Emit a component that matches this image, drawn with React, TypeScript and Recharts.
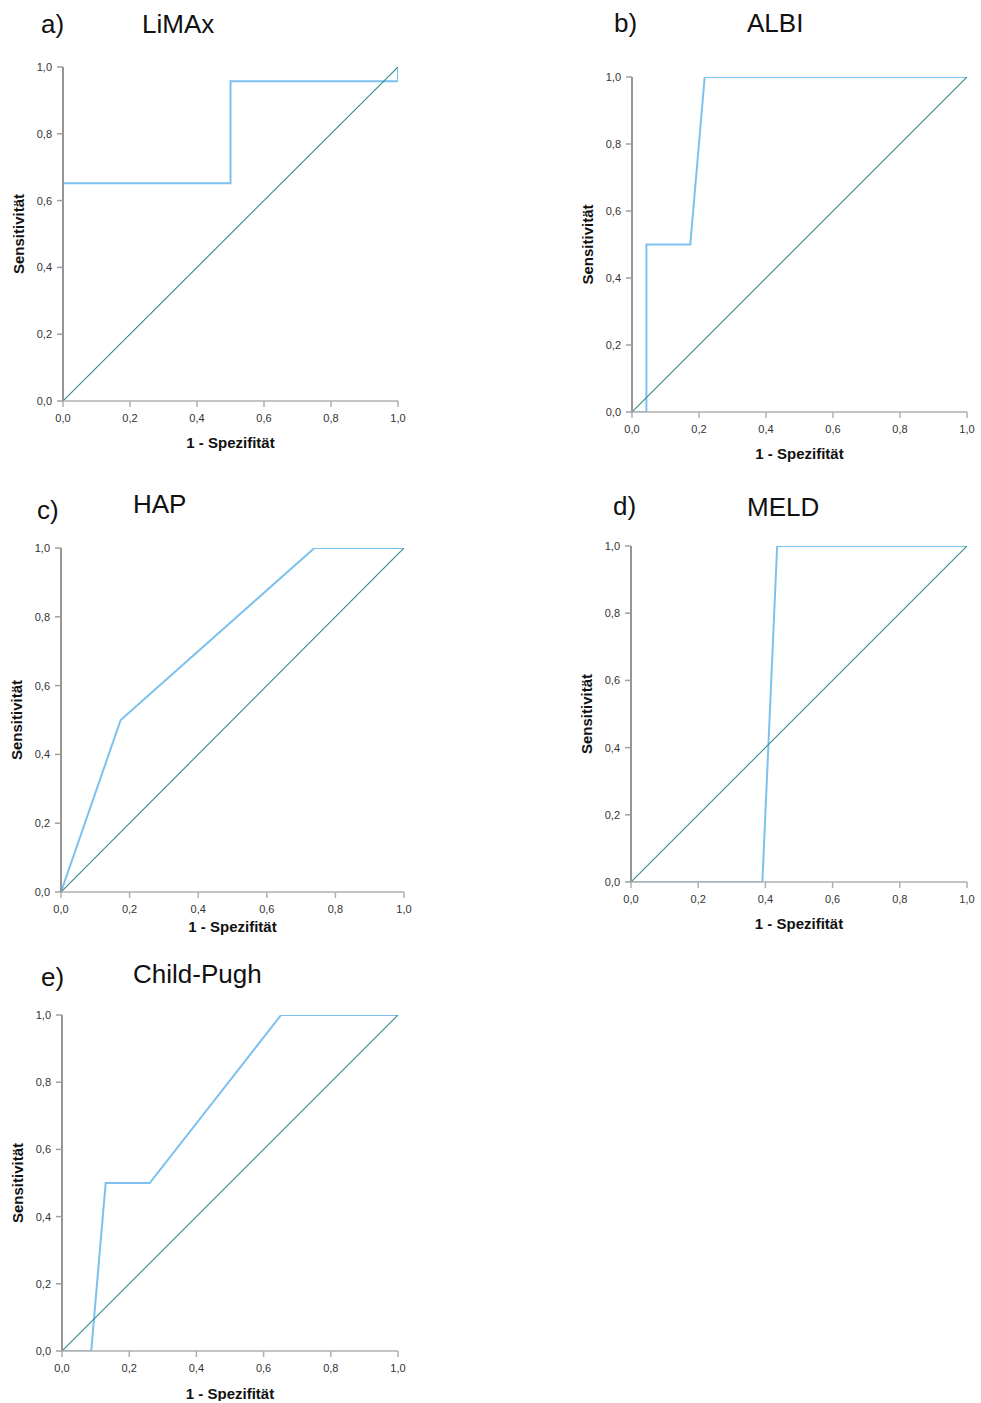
import React from 'react';
import { LineChart, Line, XAxis, YAxis, Label } from 'recharts';

// 1 - specificity (x) and sensitivity (y) for each ROC curve
const limaxFpr = [0, 0, 0.5, 0.5, 1.0, 1.0];
const limaxSens = [0, 0.652, 0.652, 0.957, 0.957, 1.0];

const albiFpr = [0, 0.043, 0.043, 0.174, 0.217, 1.0];
const albiSens = [0, 0, 0.5, 0.5, 1.0, 1.0];

const hapFpr = [0, 0.174, 0.739, 1.0];
const hapSens = [0, 0.5, 1.0, 1.0];

const meldFpr = [0, 0.391, 0.435, 1.0];
const meldSens = [0, 0, 1.0, 1.0];

const childFpr = [0, 0.087, 0.13, 0.261, 0.652, 1.0];
const childSens = [0, 0, 0.5, 0.5, 1.0, 1.0];

const refFpr = [0, 1];
const refSens = [0, 1];

const tickValues = [0, 0.2, 0.4, 0.6, 0.8, 1.0];
const xTitle = '1 - Spezifität';
const yTitle = 'Sensitivität';

const toPoints = (xs: number[], ys: number[]) => xs.map((x, i) => ({ x, y: ys[i] }));
const fmt = (v: number) => v.toFixed(1).replace('.', ',');

const FONT = '"Liberation Sans", Arial, Helvetica, sans-serif';
const ROC_COLOR = '#7cc1ee';
const REF_COLOR = '#2f8a8a';

type Panel = {
  letter: string;
  name: string;
  xs: number[];
  ys: number[];
  x0: number; x1: number; y1: number; y0: number;
  xLabelOff: number;
  letterX: number; letterY: number; nameX: number; nameY: number;
};

const panels: Panel[] = [
  { letter: 'a)', name: 'LiMAx', xs: limaxFpr, ys: limaxSens, x0: 63, x1: 398, y1: 67, y0: 401, xLabelOff: 41, letterX: 41, letterY: 33, nameX: 142, nameY: 33 },
  { letter: 'b)', name: 'ALBI', xs: albiFpr, ys: albiSens, x0: 632, x1: 967, y1: 77, y0: 412, xLabelOff: 41, letterX: 614, letterY: 32, nameX: 747, nameY: 32 },
  { letter: 'c)', name: 'HAP', xs: hapFpr, ys: hapSens, x0: 61, x1: 404, y1: 548, y0: 892, xLabelOff: 34, letterX: 37, letterY: 519, nameX: 133, nameY: 513 },
  { letter: 'd)', name: 'MELD', xs: meldFpr, ys: meldSens, x0: 631, x1: 967, y1: 546, y0: 882, xLabelOff: 41, letterX: 613, letterY: 515, nameX: 747, nameY: 516 },
  { letter: 'e)', name: 'Child-Pugh', xs: childFpr, ys: childSens, x0: 62, x1: 398, y1: 1015, y0: 1351, xLabelOff: 42, letterX: 41, letterY: 986, nameX: 133, nameY: 983 },
];

const RocChart = ({ p }: { p: Panel }) => {
  const left = p.x0 - 60;
  const top = p.y1 - 20;
  const width = p.x1 - p.x0 + 80;
  const height = p.y0 - p.y1 + 70;
  const rocData = toPoints(p.xs, p.ys);
  const refData = toPoints(refFpr, refSens);
  return (
    <div style={{ position: 'absolute', left, top, width, height }}>
      <LineChart width={width} height={height} margin={{ top: 20, right: 20, bottom: 0, left: 0 }}>
        <XAxis
          type="number"
          dataKey="x"
          domain={[0, 1]}
          ticks={tickValues}
          tickFormatter={fmt}
          height={50}
          axisLine={{ stroke: '#b0b0b0', strokeWidth: 1.5 }}
          tickLine={{ stroke: '#b0b0b0', strokeWidth: 1.5 }}
          tickSize={6}
          tickMargin={7}
          tick={{ fill: '#333', fontSize: 11, fontFamily: FONT }}
          allowDataOverflow
        >
          <Label
            content={(props: any) => {
              const vb = props.viewBox || {};
              return (
                <text
                  x={vb.x + vb.width / 2}
                  y={vb.y + p.xLabelOff}
                  textAnchor="middle"
                  dominantBaseline="central"
                  fontFamily={FONT}
                  fontWeight="bold"
                  fontSize={15}
                  fill="#111"
                >
                  {xTitle}
                </text>
              );
            }}
          />
        </XAxis>
        <YAxis
          type="number"
          domain={[0, 1]}
          ticks={tickValues}
          tickFormatter={fmt}
          width={60}
          axisLine={{ stroke: '#959595', strokeWidth: 2 }}
          tickLine={{ stroke: '#a0a0a0', strokeWidth: 1.5 }}
          tickSize={6}
          tickMargin={5}
          tick={{ fill: '#333', fontSize: 11, fontFamily: FONT }}
          allowDataOverflow
        >
          <Label
            content={(props: any) => {
              const vb = props.viewBox || {};
              const cx = vb.x + 15;
              const cy = vb.y + vb.height / 2;
              return (
                <text
                  x={cx}
                  y={cy}
                  transform={`rotate(-90 ${cx} ${cy})`}
                  textAnchor="middle"
                  dominantBaseline="central"
                  fontFamily={FONT}
                  fontWeight="bold"
                  fontSize={15}
                  fill="#111"
                >
                  {yTitle}
                </text>
              );
            }}
          />
        </YAxis>
        <Line
          data={rocData}
          dataKey="y"
          type="linear"
          stroke={ROC_COLOR}
          strokeWidth={2}
          dot={false}
          activeDot={false}
          isAnimationActive={false}
        />
        <Line
          data={refData}
          dataKey="y"
          type="linear"
          stroke={REF_COLOR}
          strokeWidth={1.1}
          dot={false}
          activeDot={false}
          isAnimationActive={false}
        />
      </LineChart>
    </div>
  );
};

export default function App() {
  return (
    <div style={{ position: 'absolute', left: 0, top: 0, width: 981, height: 1403, background: '#fff' }}>
      {panels.map((p) => (
        <RocChart key={p.letter} p={p} />
      ))}
      <svg width={981} height={1403} style={{ position: 'absolute', left: 0, top: 0, pointerEvents: 'none' }}>
        {panels.map((p) => (
          <g key={p.letter} fontFamily={FONT} fontSize={26} fill="#111">
            <text x={p.letterX} y={p.letterY}>{p.letter}</text>
            <text x={p.nameX} y={p.nameY}>{p.name}</text>
          </g>
        ))}
      </svg>
    </div>
  );
}
